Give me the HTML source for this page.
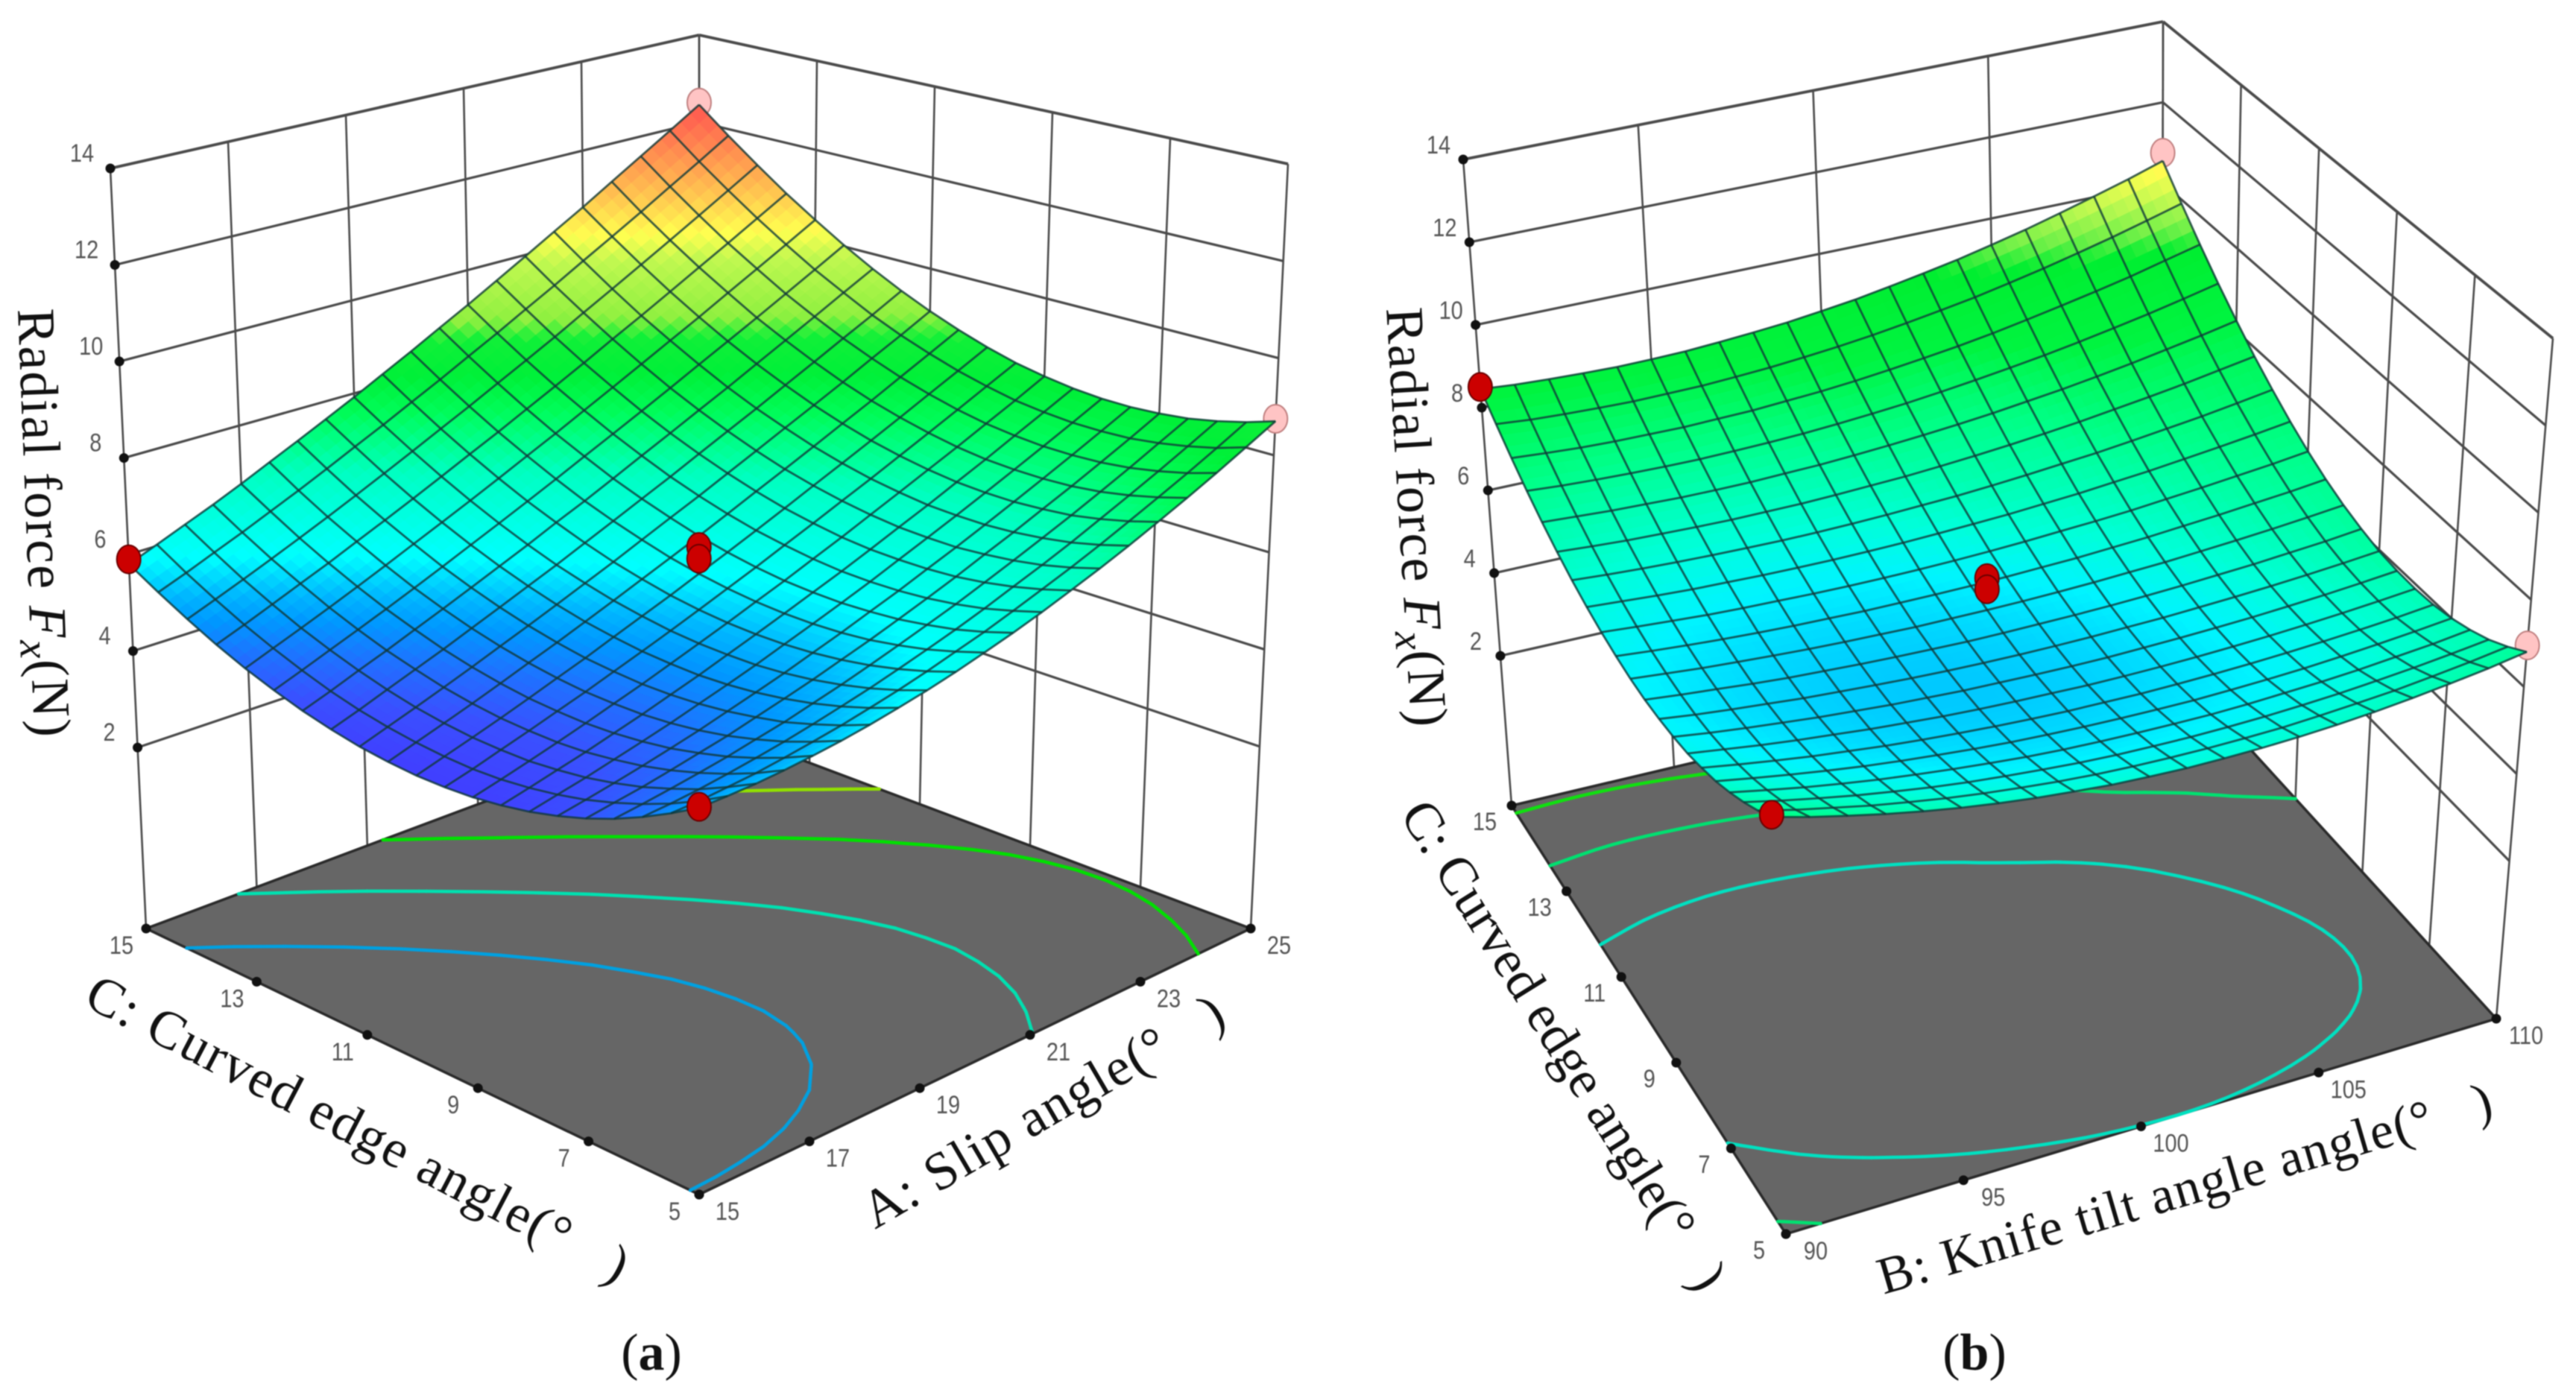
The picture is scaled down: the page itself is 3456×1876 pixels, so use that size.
<!DOCTYPE html>
<html lang="en">
<head>
<meta charset="utf-8">
<title>Radial force response surfaces</title>
<style>
html,body{margin:0;padding:0;background:#fff;}
#stage{display:block;width:3456px;height:1876px;filter:blur(0.7px);}
.title{font-family:"Liberation Serif",serif;fill:#111;}
.tick{font-family:"Liberation Sans",sans-serif;font-size:34px;fill:#555;text-anchor:middle;}
</style>
</head>
<body>
<svg id="stage" xmlns="http://www.w3.org/2000/svg" width="3456" height="1876" viewBox="0 0 3456 1876">
  <rect width="3456" height="1876" fill="#fff"/>
  <g id="panelA"></g>
  <g id="panelB"></g>

  <text class="title" transform="translate(24,415) rotate(87.8)" font-size="72" textLength="575" xml:space="preserve">Radial force <tspan font-style="italic">F</tspan><tspan font-style="italic" dy="14" font-size="56">x</tspan><tspan dy="-14">(N)</tspan></text>
  <text class="title" transform="translate(110,1348) rotate(27.6)" font-size="72" textLength="810" xml:space="preserve">C: Curved edge angle(°   )</text>
  <text class="title" transform="translate(1174,1650) rotate(-30.3)" font-size="72" textLength="549" xml:space="preserve">A: Slip angle(°   )</text>
  <text class="title" x="874" y="1838" font-size="70" text-anchor="middle">(<tspan font-weight="bold">a</tspan>)</text>

  <text class="title" transform="translate(1860,414) rotate(86.6)" font-size="72" textLength="563" xml:space="preserve">Radial force <tspan font-style="italic">F</tspan><tspan font-style="italic" dy="14" font-size="56">x</tspan><tspan dy="-14">(N)</tspan></text>
  <text class="title" transform="translate(1877,1093) rotate(58)" font-size="72" textLength="759" xml:space="preserve">C: Curved edge angle(°   )</text>
  <text class="title" transform="translate(2527,1737) rotate(-16.3)" font-size="70" textLength="855" xml:space="preserve">B: Knife tilt angle angle(°   )</text>
  <text class="title" x="2649" y="1838" font-size="70" text-anchor="middle">(<tspan font-weight="bold">b</tspan>)</text>
</svg>
<script>
// ---------- chart data ----------
var zTicks = [2, 4, 6, 8, 10, 12, 14];
var slipTicks = [15, 17, 19, 21, 23, 25];
var knifeTicks = [90, 95, 100, 105, 110];
var curvedEdgeTicks = [5, 7, 9, 11, 13, 15];

var colorValuesA = [3.9, 4.3, 4.7, 5.1, 5.4, 5.85, 6.9, 7.2, 7.7, 8.2, 8.7, 9.0, 9.85, 10.25, 10.85, 11.35, 12.2];
var colorHexA = ['#4040ff', '#3a50ff', '#2070ff', '#0098ff', '#00b8ff', '#00ffff', '#00ffc0', '#00ff98', '#00fc58', '#00f038', '#10f038', '#90f040', '#c0f850', '#ffff50', '#ffc850', '#ffa050', '#ff6050'];
var colorValuesB = [5.95, 6.4, 6.8, 7.6, 8.4, 9.5, 9.9, 10.4, 11.0, 11.3];
var colorHexB = ['#00c4ff', '#00f4ff', '#00ffd8', '#00ff88', '#00f440', '#00ee30', '#70f048', '#b8f850', '#ffff50', '#ffe050'];

var contourLevelsA = [5.3, 6.6, 8.1, 9.5];
var contourColorsA = ['#00a0e0', '#00e0b0', '#00e000', '#90e000'];
var contourLevelsB = [6.79, 7.6, 8.4];
var contourColorsB = ['#00e0c0', '#00e070', '#10e010'];

// design points: factor 1 fraction, curved edge fraction, force
var redPointsA = [[0, 1, 5.9], [0.5, 0.5, 6.4], [0.5, 0.5, 6.16], [0, 0, 5.42]];
var pinkPointsA = [[1, 1, 12.45], [1, 0, 8.75]];
var redPointsB = [[0, 1, 8.5], [0.5, 0.5, 6.6], [0.5, 0.5, 6.34], [0, 0, 7.75]];
var pinkPointsB = [[1, 1, 10.75], [1, 0, 6.95]];

// surface heights, rows = curved edge angle 5..15, columns = slip angle 15..25
var surfaceA = [
[5.40,5.41,5.43,5.47,5.53,5.60,5.69,5.80,5.92,6.06,6.22,6.39,6.58,6.79,7.01,7.25,7.51,7.78,8.07,8.38,8.70],
[5.09,5.11,5.16,5.21,5.29,5.38,5.48,5.60,5.73,5.88,6.05,6.22,6.42,6.63,6.85,7.09,7.35,7.62,7.90,8.20,8.52],
[4.81,4.85,4.91,4.99,5.08,5.18,5.30,5.43,5.57,5.73,5.90,6.08,6.28,6.50,6.72,6.96,7.22,7.49,7.77,8.07,8.38],
[4.56,4.63,4.71,4.80,4.90,5.02,5.14,5.29,5.44,5.61,5.79,5.98,6.18,6.40,6.63,6.87,7.12,7.39,7.67,7.97,8.27],
[4.35,4.44,4.53,4.64,4.76,4.88,5.03,5.18,5.34,5.52,5.70,5.90,6.11,6.33,6.57,6.81,7.07,7.33,7.61,7.90,8.21],
[4.18,4.28,4.39,4.51,4.64,4.78,4.94,5.10,5.27,5.46,5.65,5.86,6.07,6.30,6.53,6.78,7.04,7.31,7.59,7.88,8.18],
[4.04,4.16,4.28,4.42,4.56,4.71,4.88,5.05,5.23,5.43,5.63,5.84,6.06,6.30,6.54,6.79,7.05,7.32,7.60,7.89,8.19],
[3.94,4.07,4.21,4.35,4.51,4.67,4.85,5.03,5.23,5.43,5.64,5.86,6.08,6.32,6.57,6.82,7.09,7.36,7.65,7.94,8.24],
[3.87,4.01,4.16,4.32,4.49,4.67,4.85,5.05,5.25,5.46,5.68,5.90,6.14,6.38,6.64,6.90,7.17,7.44,7.73,8.02,8.33],
[3.84,3.99,4.16,4.33,4.51,4.69,4.89,5.09,5.30,5.52,5.75,5.98,6.23,6.48,6.74,7.00,7.28,7.56,7.85,8.15,8.45],
[3.84,4.01,4.18,4.36,4.55,4.75,4.95,5.17,5.39,5.61,5.85,6.09,6.34,6.60,6.87,7.14,7.42,7.71,8.01,8.31,8.62],
[3.88,4.06,4.24,4.43,4.63,4.84,5.05,5.27,5.50,5.74,5.98,6.23,6.49,6.76,7.03,7.31,7.60,7.89,8.20,8.51,8.83],
[3.95,4.14,4.33,4.53,4.74,4.96,5.18,5.41,5.65,5.89,6.15,6.41,6.67,6.95,7.23,7.52,7.81,8.11,8.43,8.74,9.07],
[4.06,4.25,4.46,4.67,4.88,5.11,5.34,5.58,5.82,6.08,6.34,6.61,6.88,7.17,7.46,7.75,8.06,8.37,8.69,9.01,9.35],
[4.20,4.40,4.62,4.83,5.06,5.29,5.53,5.78,6.03,6.30,6.56,6.84,7.13,7.42,7.72,8.02,8.34,8.66,8.99,9.33,9.67],
[4.38,4.59,4.81,5.03,5.26,5.50,5.75,6.01,6.27,6.54,6.82,7.11,7.40,7.70,8.01,8.33,8.65,8.98,9.32,9.67,10.03],
[4.59,4.81,5.03,5.26,5.50,5.75,6.01,6.27,6.54,6.82,7.11,7.40,7.71,8.02,8.34,8.67,9.00,9.35,9.70,10.06,10.43],
[4.84,5.06,5.29,5.53,5.77,6.03,6.29,6.56,6.84,7.13,7.42,7.73,8.04,8.36,8.70,9.03,9.38,9.74,10.10,10.48,10.86],
[5.13,5.35,5.58,5.82,6.07,6.33,6.60,6.88,7.17,7.47,7.77,8.09,8.41,8.74,9.09,9.44,9.80,10.17,10.55,10.94,11.34],
[5.45,5.67,5.91,6.15,6.41,6.67,6.95,7.24,7.53,7.84,8.15,8.48,8.81,9.16,9.51,9.88,10.25,10.63,11.03,11.43,11.85],
[5.80,6.03,6.27,6.51,6.77,7.05,7.33,7.62,7.92,8.24,8.56,8.90,9.24,9.60,9.97,10.35,10.73,11.14,11.55,11.97,12.40]
];

// surface heights, rows = curved edge angle 5..15, columns = knife tilt angle 90..110
var surfaceB = [
[7.70,7.47,7.27,7.08,6.91,6.76,6.63,6.52,6.43,6.35,6.30,6.26,6.25,6.25,6.27,6.31,6.37,6.45,6.55,6.66,6.80],
[7.40,7.19,7.01,6.83,6.68,6.54,6.42,6.32,6.23,6.16,6.11,6.08,6.06,6.06,6.07,6.11,6.16,6.22,6.31,6.41,6.53],
[7.14,6.95,6.78,6.62,6.48,6.35,6.24,6.15,6.07,6.00,5.95,5.92,5.90,5.90,5.91,5.94,5.98,6.04,6.11,6.20,6.30],
[6.91,6.74,6.58,6.44,6.31,6.20,6.10,6.01,5.93,5.87,5.83,5.80,5.78,5.77,5.78,5.81,5.84,5.89,5.96,6.03,6.13],
[6.71,6.56,6.42,6.29,6.17,6.07,5.98,5.90,5.83,5.78,5.74,5.71,5.69,5.68,5.69,5.71,5.74,5.79,5.85,5.92,6.00],
[6.56,6.42,6.29,6.17,6.07,5.97,5.89,5.82,5.76,5.71,5.67,5.65,5.63,5.63,5.64,5.66,5.69,5.73,5.78,5.84,5.92],
[6.43,6.31,6.19,6.09,6.00,5.91,5.84,5.77,5.72,5.68,5.65,5.62,5.61,5.61,5.62,5.64,5.67,5.71,5.76,5.82,5.89],
[6.35,6.23,6.13,6.04,5.95,5.88,5.81,5.76,5.71,5.68,5.65,5.63,5.62,5.63,5.64,5.66,5.69,5.73,5.78,5.84,5.91],
[6.30,6.19,6.10,6.02,5.94,5.88,5.82,5.77,5.73,5.70,5.68,5.67,5.67,5.68,5.69,5.72,5.75,5.79,5.84,5.90,5.97],
[6.28,6.19,6.11,6.03,5.96,5.91,5.86,5.82,5.79,5.76,5.75,5.75,5.75,5.76,5.78,5.81,5.85,5.89,5.95,6.01,6.09],
[6.30,6.22,6.14,6.08,6.02,5.97,5.93,5.90,5.87,5.86,5.85,5.85,5.86,5.88,5.91,5.94,5.99,6.04,6.10,6.17,6.25],
[6.36,6.28,6.21,6.15,6.10,6.06,6.03,6.00,5.99,5.98,5.98,5.99,6.01,6.03,6.07,6.11,6.17,6.23,6.30,6.37,6.46],
[6.45,6.38,6.32,6.26,6.22,6.19,6.16,6.14,6.13,6.13,6.14,6.16,6.19,6.23,6.27,6.32,6.39,6.46,6.54,6.62,6.72],
[6.57,6.51,6.45,6.40,6.37,6.34,6.32,6.31,6.31,6.32,6.34,6.37,6.40,6.45,6.50,6.57,6.64,6.73,6.82,6.92,7.03],
[6.73,6.67,6.62,6.58,6.55,6.53,6.51,6.51,6.52,6.54,6.57,6.60,6.65,6.71,6.78,6.85,6.94,7.04,7.14,7.26,7.39],
[6.93,6.87,6.82,6.79,6.76,6.74,6.74,6.74,6.76,6.79,6.82,6.87,6.93,7.00,7.08,7.17,7.28,7.39,7.51,7.65,7.79],
[7.16,7.11,7.06,7.03,7.00,6.99,6.99,7.01,7.03,7.07,7.12,7.18,7.25,7.33,7.43,7.53,7.65,7.78,7.93,8.08,8.25],
[7.43,7.37,7.33,7.30,7.28,7.27,7.28,7.30,7.33,7.38,7.44,7.51,7.60,7.70,7.81,7.93,8.07,8.22,8.38,8.56,8.75],
[7.74,7.68,7.63,7.60,7.59,7.58,7.60,7.62,7.67,7.72,7.79,7.88,7.98,8.09,8.22,8.37,8.53,8.70,8.88,9.09,9.30],
[8.08,8.01,7.97,7.94,7.92,7.93,7.94,7.98,8.03,8.10,8.18,8.28,8.40,8.53,8.67,8.84,9.02,9.22,9.43,9.66,9.90],
[8.45,8.38,8.34,8.31,8.29,8.30,8.32,8.37,8.43,8.50,8.60,8.71,8.85,9.00,9.16,9.35,9.55,9.78,10.02,10.27,10.55]
];

var contourFieldB = [
[7.76,7.44,7.18,6.99,6.86,6.80,6.80,6.87,7.00,7.20,7.46],
[7.23,6.93,6.71,6.54,6.45,6.41,6.45,6.54,6.71,6.93,7.23],
[6.83,6.56,6.37,6.23,6.17,6.16,6.23,6.35,6.55,6.80,7.13],
[6.56,6.33,6.16,6.06,6.02,6.05,6.14,6.30,6.52,6.81,7.16],
[6.43,6.23,6.09,6.02,6.01,6.07,6.19,6.38,6.63,6.95,7.33],
[6.44,6.27,6.16,6.12,6.14,6.23,6.38,6.58,6.85,7.15,7.45],
[6.59,6.45,6.37,6.36,6.41,6.53,6.71,6.90,7.15,7.42,7.60],
[6.87,6.76,6.71,6.73,6.81,6.96,7.17,7.30,7.55,7.75,7.95],
[7.28,7.20,7.18,7.23,7.34,7.52,7.60,7.80,8.10,8.25,8.40],
[7.84,7.78,7.80,7.87,8.02,8.22,8.30,8.60,8.90,9.20,9.60],
[8.52,8.50,8.54,8.65,8.82,9.06,9.36,9.73,10.16,10.66,11.22]
];

// ---------- rendering ----------
var SVGNS = 'http://www.w3.org/2000/svg';

function bilinearMap(p00, p10, p11, p01) {
  return function (u, v) {
    return [
      p00[0] * (1 - u) * (1 - v) + p10[0] * u * (1 - v) + p11[0] * u * v + p01[0] * (1 - u) * v,
      p00[1] * (1 - u) * (1 - v) + p10[1] * u * (1 - v) + p11[1] * u * v + p01[1] * (1 - u) * v
    ];
  };
}

// display smoothing of a coarse field so contours do not look polygonal
function smoothLine(arr, factor) {
  var out = [], n = arr.length;
  for (var i = 0; i < n - 1; i++) {
    var p1 = arr[i], p2 = arr[i + 1];
    var p0 = i > 0 ? arr[i - 1] : 2 * p1 - p2;
    var p3 = i + 2 < n ? arr[i + 2] : 2 * p2 - p1;
    for (var k = 0; k < factor; k++) {
      var x = k / factor;
      out.push(0.5 * (2 * p1 + (p2 - p0) * x + (2 * p0 - 5 * p1 + 4 * p2 - p3) * x * x + (3 * p1 - p0 - 3 * p2 + p3) * x * x * x));
    }
  }
  out.push(arr[n - 1]);
  return out;
}

function smoothGrid(grid, factor) {
  var rowsDone = grid.map(function (r) { return smoothLine(r, factor); });
  var width = rowsDone[0].length;
  var cols = [];
  for (var c = 0; c < width; c++) {
    cols.push(smoothLine(rowsDone.map(function (r) { return r[c]; }), factor));
  }
  var out = [];
  for (var r = 0; r < cols[0].length; r++) {
    out.push(cols.map(function (col) { return col[r]; }));
  }
  return out;
}

function gridAt(grid, t, s) {
  var rows = grid.length, cols = grid[0].length;
  var x = Math.min(t * (cols - 1), cols - 1.000001), y = Math.min(s * (rows - 1), rows - 1.000001);
  var i = Math.floor(x), j = Math.floor(y), u = x - i, v = y - j;
  return grid[j][i] * (1 - u) * (1 - v) + grid[j][i + 1] * u * (1 - v) + grid[j + 1][i] * (1 - u) * v + grid[j + 1][i + 1] * u * v;
}

function hexToRgb(hex) {
  return [parseInt(hex.substr(1, 2), 16), parseInt(hex.substr(3, 2), 16), parseInt(hex.substr(5, 2), 16)];
}

function colorFor(z, values, hexes) {
  var n = values.length;
  if (z <= values[0]) return hexes[0];
  if (z >= values[n - 1]) return hexes[n - 1];
  for (var i = 1; i < n; i++) {
    if (z <= values[i]) {
      var f = (z - values[i - 1]) / (values[i] - values[i - 1]);
      var p = hexToRgb(hexes[i - 1]), q = hexToRgb(hexes[i]);
      return 'rgb(' + Math.round(p[0] + (q[0] - p[0]) * f) + ',' + Math.round(p[1] + (q[1] - p[1]) * f) + ',' + Math.round(p[2] + (q[2] - p[2]) * f) + ')';
    }
  }
  return hexes[n - 1];
}

function ptStr(p) { return p[0].toFixed(1) + ',' + p[1].toFixed(1); }

function drawPanel(cfg) {
  var root = document.getElementById(cfg.id);
  var floorMap = bilinearMap(cfg.F0, cfg.R0, cfg.B0, cfg.L0);
  var topMap = bilinearMap(cfg.F1, cfg.R1, cfg.B1, cfg.L1);
  var zAxisMax = 14;

  function project(t, s, z) {
    var a = floorMap(t, s), b = topMap(t, s);
    var h = (z - cfg.zBase) / (zAxisMax - cfg.zBase);
    return [a[0] + (b[0] - a[0]) * h, a[1] + (b[1] - a[1]) * h];
  }

  function wallLine(p, q, width, color) {
    var l = document.createElementNS(SVGNS, 'line');
    
    
    l.setAttribute('x1', p[0]); l.setAttribute('y1', p[1]);
    l.setAttribute('x2', q[0]); l.setAttribute('y2', q[1]);
    l.setAttribute('stroke', color);
    l.setAttribute('stroke-width', width);
    root.appendChild(l);
  }

  function tickDot(p) {
    var c = document.createElementNS(SVGNS, 'circle');
    
    
    c.setAttribute('cx', p[0]); c.setAttribute('cy', p[1]);
    c.setAttribute('r', 6.5);
    c.setAttribute('fill', '#111');
    root.appendChild(c);
  }

  function tickLabel(p, dx, dy, value) {
    var t = document.createElementNS(SVGNS, 'text');
    
    
    t.setAttribute('class', 'tick');
    t.setAttribute('transform', 'translate(' + (p[0] + dx) + ',' + (p[1] + dy + 12) + ') scale(0.85,1)');
    t.textContent = value;
    root.appendChild(t);
  }

  function marker(pt, fill, stroke) {
    var p = project(pt[0], pt[1], pt[2]);
    var e = document.createElementNS(SVGNS, 'ellipse');
    
    
    e.setAttribute('cx', p[0]); e.setAttribute('cy', p[1]);
    e.setAttribute('rx', 16); e.setAttribute('ry', 19);
    e.setAttribute('fill', fill);
    e.setAttribute('stroke', stroke);
    e.setAttribute('stroke-width', 2);
    root.appendChild(e);
  }

  // walls
  var xTicks = cfg.xTicks;
  var cTicks = curvedEdgeTicks;
  var xMin = xTicks[0], xMax = xTicks[xTicks.length - 1];
  var cMin = cTicks[0], cMax = cTicks[cTicks.length - 1];
  var i, j, k;

  for (i = 0; i < xTicks.length; i++) {
    var tw = (xTicks[i] - xMin) / (xMax - xMin);
    wallLine(project(tw, 1, cfg.zBase), project(tw, 1, zAxisMax), 2.6, '#4a4a4a');
  }
  for (i = 0; i < cTicks.length; i++) {
    var sw = (cTicks[i] - cMin) / (cMax - cMin);
    wallLine(project(1, sw, cfg.zBase), project(1, sw, zAxisMax), 2.6, '#4a4a4a');
  }
  for (i = 0; i < zTicks.length; i++) {
    var zv = zTicks[i];
    var w = zv === zAxisMax ? 3.8 : 3.2;
    wallLine(project(0, 1, zv), project(1, 1, zv), w, '#4a4a4a');
    wallLine(project(1, 1, zv), project(1, 0, zv), w, '#4a4a4a');
  }

  // floor
  var floor = document.createElementNS(SVGNS, 'polygon');
  
  
  floor.setAttribute('points', [cfg.F0, cfg.R0, cfg.B0, cfg.L0].map(ptStr).join(' '));
  floor.setAttribute('fill', '#666666');
  floor.setAttribute('stroke', '#2a2a2a');
  floor.setAttribute('stroke-width', 3.5);
  root.appendChild(floor);

  // contours by marching squares
  var cg = cfg.contourGrid;
  var cRows = cg.length, cCols = cg[0].length;
  for (k = 0; k < cfg.levels.length; k++) {
    var lv = cfg.levels[k];
    for (j = 0; j < cRows - 1; j++) {
      for (i = 0; i < cCols - 1; i++) {
        var q = [[i, j, cg[j][i]], [i + 1, j, cg[j][i + 1]], [i + 1, j + 1, cg[j + 1][i + 1]], [i, j + 1, cg[j + 1][i]]];
        var hits = [];
        for (var m = 0; m < 4; m++) {
          var a = q[m], b = q[(m + 1) % 4];
          if ((a[2] < lv) !== (b[2] < lv)) {
            var f = (lv - a[2]) / (b[2] - a[2]);
            hits.push([(a[0] + (b[0] - a[0]) * f) / (cCols - 1), (a[1] + (b[1] - a[1]) * f) / (cRows - 1)]);
          }
        }
        for (var n = 0; n + 1 < hits.length; n += 2) {
          var p1 = floorMap(hits[n][0], hits[n][1]), p2 = floorMap(hits[n + 1][0], hits[n + 1][1]);
          var seg = document.createElementNS(SVGNS, 'line');
          
          
          seg.setAttribute('x1', p1[0].toFixed(1)); seg.setAttribute('y1', p1[1].toFixed(1));
          seg.setAttribute('x2', p2[0].toFixed(1)); seg.setAttribute('y2', p2[1].toFixed(1));
          seg.setAttribute('stroke', cfg.levelColors[k]);
          seg.setAttribute('stroke-width', 4.5);
          seg.setAttribute('stroke-linecap', 'round');
          root.appendChild(seg);
        }
      }
    }
  }

  // ticks
  for (i = 0; i < zTicks.length; i++) {
    var zp = project(0, 1, zTicks[i]);
    tickDot(zp);
    tickLabel(zp, cfg.zLabel[0], cfg.zLabel[1], zTicks[i]);
  }
  for (i = 0; i < cTicks.length; i++) {
    var cp = floorMap(0, (cTicks[i] - cMin) / (cMax - cMin));
    tickDot(cp);
    tickLabel(cp, cfg.cLabel[0], cfg.cLabel[1], cTicks[i]);
  }
  for (i = 0; i < xTicks.length; i++) {
    var xp = floorMap((xTicks[i] - xMin) / (xMax - xMin), 0);
    tickDot(xp);
    tickLabel(xp, cfg.xLabel[0], cfg.xLabel[1], xTicks[i]);
  }

  // points hidden behind the surface
  cfg.pink.forEach(function (pt) { marker(pt, '#ffc4c4', '#c08080'); });

  // surface cells, back to front
  var grid = cfg.surface;
  var rows = grid.length, cols = grid[0].length;
  var sub = 3;
  for (var sum = rows + cols - 4; sum >= 0; sum--) {
    for (j = 0; j < rows - 1; j++) {
      i = sum - j;
      if (i < 0 || i >= cols - 1) continue;
      var z00 = grid[j][i], z10 = grid[j][i + 1], z01 = grid[j + 1][i], z11 = grid[j + 1][i + 1];
      var zAt = function (u, v) {
        return z00 * (1 - u) * (1 - v) + z10 * u * (1 - v) + z01 * (1 - u) * v + z11 * u * v;
      };
      for (var sv = sub - 1; sv >= 0; sv--) {
        for (var su = sub - 1; su >= 0; su--) {
          var u0 = su / sub, u1 = (su + 1) / sub, v0 = sv / sub, v1 = (sv + 1) / sub;
          var toT = function (u) { return (i + u) / (cols - 1); };
          var toS = function (v) { return (j + v) / (rows - 1); };
          var corners = [
            project(toT(u0), toS(v0), zAt(u0, v0)),
            project(toT(u1), toS(v0), zAt(u1, v0)),
            project(toT(u1), toS(v1), zAt(u1, v1)),
            project(toT(u0), toS(v1), zAt(u0, v1))
          ];
          var shade = gridAt(cfg.colorGrid, toT((u0 + u1) / 2), toS((v0 + v1) / 2));
          var col = colorFor(shade, cfg.colorValues, cfg.colorHex);
          var poly = document.createElementNS(SVGNS, 'polygon');
          
          
          poly.setAttribute('points', corners.map(ptStr).join(' '));
          poly.setAttribute('fill', col);
          poly.setAttribute('stroke', col);
          poly.setAttribute('stroke-width', 0.8);
          root.appendChild(poly);
        }
      }
    }
  }

  // surface mesh lines
  function meshLine(points) {
    var pl = document.createElementNS(SVGNS, 'polyline');
    
    
    pl.setAttribute('points', points.map(ptStr).join(' '));
    pl.setAttribute('fill', 'none');
    pl.setAttribute('stroke', '#103838');
    pl.setAttribute('stroke-opacity', '0.8');
    pl.setAttribute('stroke-width', 2.8);
    root.appendChild(pl);
  }
  for (j = 0; j < rows; j++) {
    var rowPts = [];
    for (i = 0; i < cols; i++) rowPts.push(project(i / (cols - 1), j / (rows - 1), grid[j][i]));
    meshLine(rowPts);
  }
  for (i = 0; i < cols; i++) {
    var colPts = [];
    for (j = 0; j < rows; j++) colPts.push(project(i / (cols - 1), j / (rows - 1), grid[j][i]));
    meshLine(colPts);
  }

  cfg.red.forEach(function (pt) { marker(pt, '#cc0000', '#6a0000'); });
}

var smoothFieldB = smoothGrid(contourFieldB, 4);

drawPanel({
  id: 'panelA',
  F0: [938, 1603], R0: [1678, 1246], B0: [938, 968], L0: [196, 1246],
  F1: [938, 460], R1: [1728, 220], B1: [938, 47], L1: [148, 226],
  zBase: -1.75,
  xTicks: slipTicks,
  surface: surfaceA,
  contourGrid: surfaceA,
  colorGrid: surfaceA,
  colorValues: colorValuesA,
  colorHex: colorHexA,
  levels: contourLevelsA,
  levelColors: contourColorsA,
  red: redPointsA,
  pink: pinkPointsA,
  zLabel: [-38, -21],
  cLabel: [-33, 22],
  xLabel: [38, 22]
});

drawPanel({
  id: 'panelB',
  F0: [2396, 1656], R0: [3349, 1367], B0: [2900, 875], L0: [2028, 1081],
  F1: [2364, 718], R1: [3425, 454], B1: [2902, 29], L1: [1963, 214],
  zBase: -1.62,
  xTicks: knifeTicks,
  surface: surfaceB,
  contourGrid: smoothFieldB,
  colorGrid: smoothFieldB,
  colorValues: colorValuesB,
  colorHex: colorHexB,
  levels: contourLevelsB,
  levelColors: contourColorsB,
  red: redPointsB,
  pink: pinkPointsB,
  zLabel: [-33, -20],
  cLabel: [-36, 21],
  xLabel: [40, 22]
});
</script>
</body>
</html>
